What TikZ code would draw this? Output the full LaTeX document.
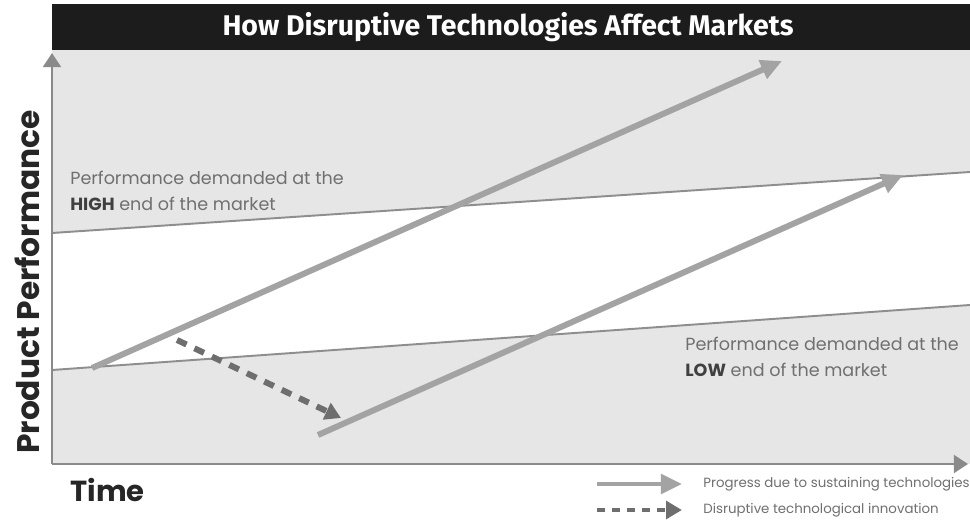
\documentclass[tikz,border=0pt]{standalone}
\usepackage{fontspec}
\setmainfont{Poppins}
\newfontfamily\titlefont{Fira Sans}
\usetikzlibrary{arrows.meta}
\definecolor{bandgray}{HTML}{E6E6E6}
\definecolor{arrowgray}{HTML}{A3A3A3}
\definecolor{dashgray}{HTML}{6E6E6E}
\definecolor{linegray}{HTML}{8E8E8E}
\definecolor{axisgray}{HTML}{8A8A8A}
\definecolor{textgray}{HTML}{707070}
\definecolor{bargray}{HTML}{1C1C1C}
\begin{document}
\begin{tikzpicture}[x=0.02cm, y=-0.02cm,
    progress/.style={draw=arrowgray, line width=3.4pt, -{Triangle[length=12pt,width=11pt]}},
    disrupt/.style={draw=dashgray, line width=3.4pt, dash pattern=on 6pt off 5pt, -{Triangle[length=9pt,width=10pt]}},
    demand/.style={draw=linegray, line width=1.1pt},
    axis/.style={draw=axisgray, line width=1.7pt, -{Triangle[length=8pt,width=10pt]}},
    note/.style={font=\fontsize{10}{14.5}\selectfont, text=textgray, align=left, anchor=north west, inner sep=0pt},
    legend/.style={font=\fontsize{7.6}{9}\selectfont, text=textgray, anchor=west, inner sep=0pt}]
    \useasboundingbox[fill=white] (0,0) rectangle (970,523);
    % market bands
    \fill[bandgray] (52,50) rectangle (970,464);
    \fill[white] (52,233) -- (970,172) -- (970,305) -- (52,370) -- cycle;
    \draw[demand] (52,233) -- (970,172);
    \draw[demand] (52,370) -- (970,305);
    % title bar
    \fill[bargray] (52,4) rectangle (970,50);
    \node[font=\titlefont\bfseries\fontsize{16.2}{18}\selectfont, text=white] (title) at (508,27) {How Disruptive Technologies Affect Markets};
    % axes
    \coordinate (origin) at (52,464);
    \coordinate (ytop) at (52,53);
    \coordinate (xend) at (968,464);
    \draw[axis] (origin) -- (ytop);
    \draw[axis] (origin) -- (xend);
    \node[font=\bfseries\fontsize{17.8}{20}\selectfont, rotate=90, text=black!85] (ylabel) at (27,282) {Product Performance};
    \node[font=\bfseries\fontsize{16.5}{20}\selectfont, anchor=west, inner sep=0pt, text=black!85] (xlabel) at (70,490) {Time};
    % demand notes
    \node[note] (highnote) at (70,171) {Performance demanded at the\\\textcolor{black!75}{\bfseries HIGH} end of the market};
    \node[note] (lownote) at (685,337) {Performance demanded at the\\\textcolor{black!75}{\bfseries LOW} end of the market};
    % sustaining and disruptive arrows
    \coordinate (s1) at (92,368);
    \coordinate (e1) at (782,61);
    \coordinate (s2) at (318,435);
    \coordinate (e2) at (903,175);
    \coordinate (d1) at (177,340);
    \coordinate (d2) at (341,418);
    \draw[progress] (s1) -- (e1);
    \draw[progress] (s2) -- (e2);
    \draw[disrupt] (d1) -- (d2);
    % legend
    \node[legend] (legprog) at (703,484) {Progress due to sustaining technologies};
    \node[legend] (legdis) at (703,510) {Disruptive technological innovation};
    \coordinate (lp) at (597,484);
    \coordinate (ld) at (597,510);
    \draw[progress, line width=2.6pt] (lp) -- ([xshift=-12pt]legprog.west);
    \draw[disrupt, line width=2.6pt, dash pattern=on 4.5pt off 4pt] (ld) -- ([xshift=-12pt]legdis.west);
\end{tikzpicture}
\end{document}
